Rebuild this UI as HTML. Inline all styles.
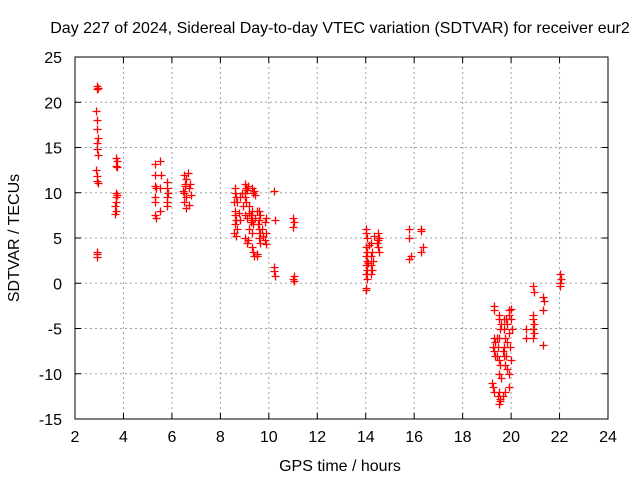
<!DOCTYPE html>
<html><head><meta charset="utf-8"><style>
html,body{margin:0;padding:0;background:#fff;}
svg{display:block;font-family:"Liberation Sans",sans-serif;}
</style></head><body>
<svg id="chart" width="640" height="480">
<text x="340" y="33" font-size="16" text-anchor="middle">Day 227 of 2024, Sidereal Day-to-day VTEC variation (SDTVAR) for receiver eur2</text>
<text x="340" y="471" font-size="16" text-anchor="middle">GPS time / hours</text>
<text transform="translate(19,238) rotate(-90)" font-size="16" text-anchor="middle">SDTVAR / TECUs</text>
<g id="grid"></g><g id="ticks"></g><g id="pts"></g>
<rect x="75" y="57" width="533" height="362" fill="none" stroke="#000"/>
</svg>
<script>
const xTicks=[2,4,6,8,10,12,14,16,18,20,22,24];
const yTicks=[-15,-10,-5,0,5,10,15,20,25];
const hours=[2.9,2.9,2.95,2.85,2.9,2.9,2.95,2.9,2.9,2.95,2.85,2.9,2.9,2.95,2.9,2.9,2.9,
3.7,3.75,3.7,3.75,3.7,3.75,3.7,3.7,3.65,3.7,3.65,
5.3,5.3,5.3,5.35,5.3,5.3,5.3,5.35,5.5,5.55,5.5,5.5,5.8,5.8,5.85,5.8,5.8,5.8,
6.5,6.6,6.55,6.7,6.5,6.8,6.6,6.5,6.7,6.6,6.55,6.75,6.45,6.65,
8.6,8.6,8.65,8.55,8.6,8.6,8.65,8.6,8.55,8.65,9.0,9.05,9.1,9.0,9.0,9.05,8.95,9.0,9.1,9.0,9.1,9.3,9.35,9.3,9.25,9.3,9.35,9.3,9.3,9.35,9.4,9.6,9.65,9.6,9.55,9.6,9.65,9.6,9.65,9.9,9.85,9.9,9.85,9.9,8.8,8.8,9.2,9.2,9.5,9.5,
8.7,8.75,8.7,9.15,9.2,9.25,9.45,9.5,9.7,9.75,9.4,9.45,9.15,8.9,
10.2,10.25,10.2,10.2,10.25,11,11.05,11,11.05,11,11.05,
14,14,14.05,14,14.05,14,14.05,14,14.05,14,14.05,14,14,14.2,14.25,14.2,14.2,14.25,14.2,14.5,14.55,14.5,14.45,14.5,14.55,14.1,14.15,14.3,14.35,
15.8,15.8,15.85,15.8,16.3,16.3,16.35,16.3,
19.3,19.3,19.3,19.35,19.25,19.3,19.35,19.2,19.25,19.3,19.5,19.5,19.55,19.5,19.45,19.5,19.55,19.5,19.5,19.55,19.5,19.7,19.7,19.75,19.7,19.7,19.75,19.65,19.75,19.9,19.9,19.85,19.9,19.95,19.85,19.9,19.9,20.0,20.0,20.05,20.0,
19.4,19.45,19.6,19.65,19.8,19.85,19.4,19.6,19.55,19.8,
20.6,20.6,20.9,20.95,20.9,20.9,20.95,20.9,20.95,20.9,21.3,21.35,21.3,21.3,22,22.05,22,22];
const values=[21.5,21.8,21.6,19,18,17,16,15.5,14.8,14.2,12.5,11.8,11.3,11.1,3.5,3.2,2.9,
13.8,13.5,13,12.8,10,9.8,9.5,9,8.5,8,7.6,
13.2,12,10.8,10.5,9.5,9,7.5,7.2,13.5,12,10.5,8,11.2,10.5,10,9.5,9,8.5,
12,11.5,11,10.5,10,9.8,9.5,9,8.6,8.3,10.8,11,10.2,12.2,
10.5,10,9.5,9,8,7.5,7,6.5,5.5,5.2,11,10.5,10.3,10,9.5,9,8.5,7.5,7.2,5,4.5,10.5,10,8,7.5,7,6.5,5.5,4,3.5,3,8,7.5,7,6.5,6,5.5,5,4.5,7.2,6.8,5.5,4.8,4.3,9.5,7,8.5,6,8,3,
9,7.8,6,10.8,7.8,6.8,7.2,3.2,6,5.2,10.2,9.8,4.8,10,
10.2,7,1.8,1.4,0.8,7.2,6.8,6.2,0.8,0.5,0.2,
6,5.5,5,4,3.5,3,2.5,2,1.5,1,0.5,-0.5,-0.8,4.5,3.5,3,2,1.5,1,5.5,5,4.8,4.5,4,3.5,2.2,4.2,2.5,5.2,
6,5,3,2.7,6,5.8,4,3.5,
-2.5,-3,-6,-6.5,-7,-7.5,-8,-11,-11.5,-12,-3.5,-4,-5,-6,-7,-8.5,-9,-10,-12,-13,-13.3,-4,-5,-6,-7,-8,-9,-12.5,-12,-3,-3.5,-4.5,-5.5,-7,-9.5,-10,-11.5,-2.8,-4,-5,-8.5,
-6,-12.5,-4.5,-7.5,-4,-6.5,-8,-10.5,-12.8,-8,
-5,-6,-0.3,-1,-3.5,-4,-4.5,-5,-5.5,-6,-1.5,-2,-3,-6.8,1,0.5,0,-0.3];
const X0=75,X1=608,Y0=419,Y1=57;
function sx(h){return X0+(h-2)/(24-2)*(X1-X0);}
function sy(v){return Y0-(v+15)/(25+15)*(Y0-Y1);}
const NS='http://www.w3.org/2000/svg';
const grid=document.getElementById('grid'),ticks=document.getElementById('ticks'),pts=document.getElementById('pts');
function mk(tag,attrs,parent){const e=document.createElementNS(NS,tag);for(const k in attrs)e.setAttribute(k,attrs[k]);parent.appendChild(e);return e;}
xTicks.forEach(t=>{const x=sx(t);
 if(t>2&&t<24){const g=mk('line',{x1:x,x2:x,y1:Y1,y2:Y0,stroke:'#a0a0a0','stroke-dasharray':'2,3'},grid);
 
 }
 const tk=mk('path',{d:`M${x},${Y0}v-6M${x},${Y1}v6`,stroke:'#000'},ticks);
 
 
 const l=mk('text',{x:x,y:Y0+23,'font-size':16,'text-anchor':'middle'},ticks);l.textContent=t;
 
 });
yTicks.forEach(t=>{const y=sy(t);
 if(t>-15&&t<25){const g=mk('line',{x1:X0,x2:X1,y1:y,y2:y,stroke:'#a0a0a0','stroke-dasharray':'2,3'},grid);
 
 }
 const tk=mk('path',{d:`M${X0},${y}h6M${X1},${y}h-6`,stroke:'#000'},ticks);
 
 
 const l=mk('text',{x:X0-13,y:y+6,'font-size':16,'text-anchor':'end'},ticks);l.textContent=t;
 
 });
hours.forEach((h,i)=>{const x=Math.round(sx(h))+0.5,y=Math.round(sy(values[i]))+0.5;
 const p=mk('path',{d:`M${x-4},${y}h8M${x},${y-4}v8`,stroke:'#ff0000','stroke-width':1.3},pts);
 
 });
</script>
</body></html>
